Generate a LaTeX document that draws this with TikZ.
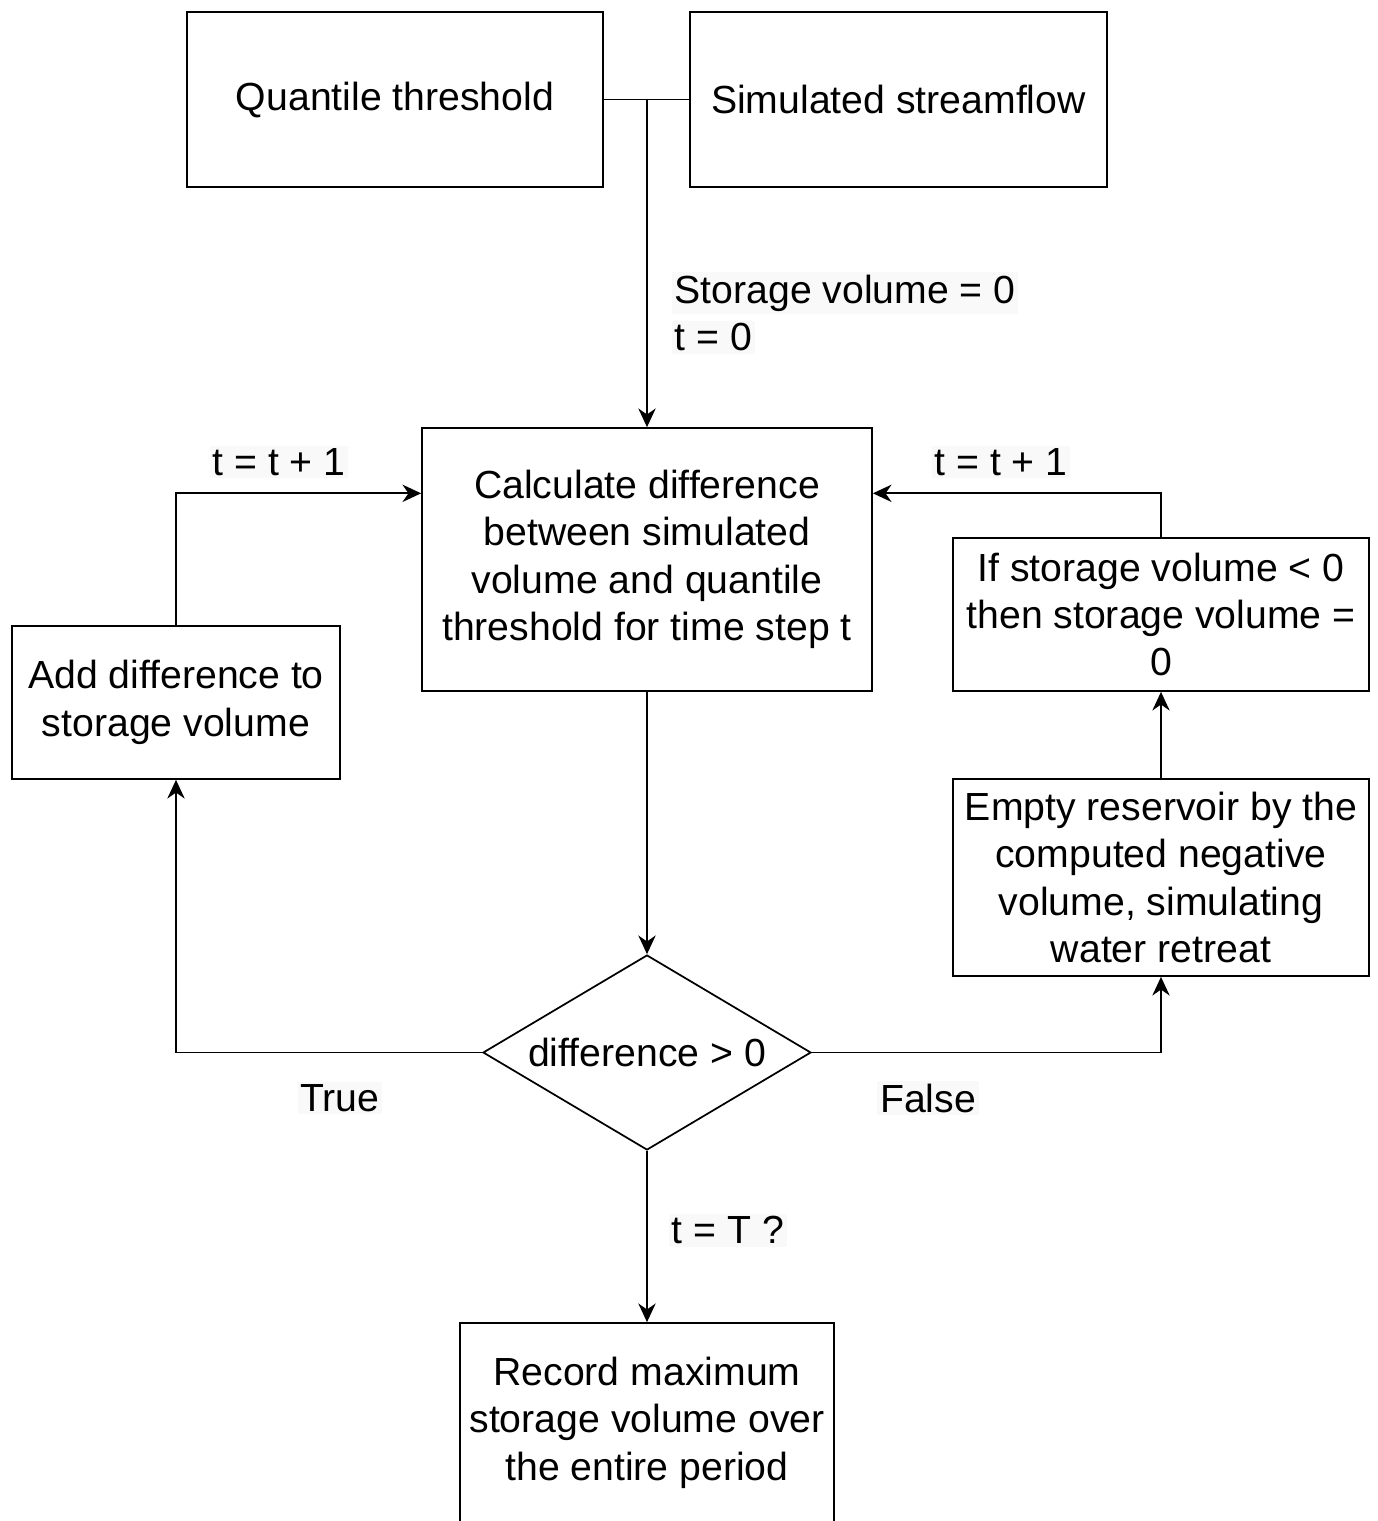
\documentclass[tikz,border=0pt]{standalone}
\usepackage{fontspec}
\setmainfont{Liberation Sans}
\usetikzlibrary{shapes.geometric,arrows.meta,calc}

\definecolor{lblbg}{RGB}{249,249,249}
\newcommand{\flowfont}{\fontsize{29.4}{35.6}\selectfont}

\tikzset{every picture/.style={line width=1.3pt}}
\tikzset{
  box/.style={draw, rectangle, align=center, inner sep=0pt, font=\flowfont},
  diam/.style={draw, diamond, shape aspect=1.68, inner sep=0pt, font=\flowfont},
  lbl/.style={fill=lblbg, inner sep=2pt, font=\flowfont}
}

\begin{document}
\begin{tikzpicture}[x=0.75pt,y=0.75pt,yscale=-1,xscale=1,>={Stealth[length=14pt,width=13pt,inset=4.5pt]}]
    \useasboundingbox (0,0) rectangle (1378,1521);

    %Shape: Rectangle
    \node [box, minimum width=312pt, minimum height=131.25pt] (qt) at (395,99.5) {Quantile threshold};
    %Shape: Rectangle
    \node [box, minimum width=312.75pt, minimum height=131.25pt] (ss) at (898.5,99.5) {Simulated streamflow};
    %Shape: Rectangle
    \node [box, minimum width=337.5pt, minimum height=197.25pt] (calcd) at (647,559.5) {Calculate difference\\between simulated\\volume and quantile\\threshold for time step t};
    %Shape: Diamond
    \node [diam, minimum width=246pt, minimum height=146.25pt] (dec) at (647,1052.5) {difference > 0};
    %Shape: Rectangle
    \node [box, minimum width=246pt, minimum height=114.75pt] (add) at (176,702.5) {Add difference to\\storage volume};
    %Shape: Rectangle
    \node [box, minimum width=312pt, minimum height=114.75pt] (ifz) at (1161,614.5) {If storage volume < 0\\then storage volume =\\0};
    %Shape: Rectangle
    \node [box, minimum width=312pt, minimum height=147.75pt] (emp) at (1161,877.5) {Empty reservoir by the\\computed negative\\volume, simulating\\water retreat};
    %Shape: Rectangle
    \node [box, minimum width=280.5pt, minimum height=149.25pt] (rec) at (647,1422.5) {Record maximum\\storage volume over\\the entire period};

    %Straight Lines
    \coordinate (jn) at (qt.east -| calcd.north);
    \draw (qt.east) -- (ss.west);
    \draw [->] (jn) -- (calcd.north);
    %Straight Lines
    \draw [->] (calcd) -- (dec);
    \draw [->] (dec) -- (rec);
    %Straight Lines
    \draw [->] (dec.west) -| (add.south);
    \draw [->] (add.north) |- ($(calcd.north west)!0.25!(calcd.south west)$);
    %Straight Lines
    \draw [->] (dec.east) -| (emp.south);
    \draw [->] (emp) -- (ifz);
    \draw [->] (ifz.north) |- ($(calcd.north east)!0.25!(calcd.south east)$);

    % Text Node
    \node [font=\flowfont, inner sep=0pt, align=left, anchor=west] (init) at (671,313) {\fboxsep=2pt\colorbox{lblbg}{Storage volume = 0}\\\fboxsep=2pt\colorbox{lblbg}{t = 0}};
    % Text Node
    \node [lbl] (incl) at (279,462) {t = t + 1};
    % Text Node
    \node [lbl] (incr) at (1001,462) {t = t + 1};
    % Text Node
    \node [lbl] (yes) at (340,1098) {True};
    % Text Node
    \node [lbl] (no) at (928,1098) {False};
    % Text Node
    \node [lbl] (stop) at (728,1230) {t = T ?};

\end{tikzpicture}
\end{document}
